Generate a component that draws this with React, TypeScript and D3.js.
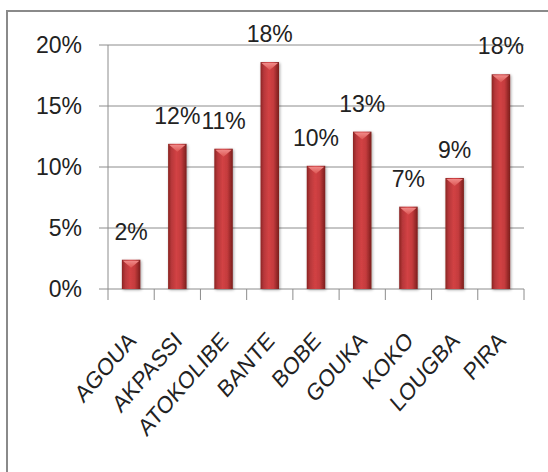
import React from "react";
import * as d3 from "d3";

const categories = ["AGOUA", "AKPASSI", "ATOKOLIBE", "BANTE", "BOBE", "GOUKA", "KOKO", "LOUGBA", "PIRA"];
const values = [2.4, 11.9, 11.5, 18.6, 10.1, 12.9, 6.75, 9.1, 17.6];
const valueLabels = ["2%", "12%", "11%", "18%", "10%", "13%", "7%", "9%", "18%"];
const yTicks = [0, 5, 10, 15, 20];

const W = 548;
const H = 472;
const FONT = "'Liberation Sans', Arial, sans-serif";

export default function App() {
  const x = d3.scaleBand<string>().domain(categories).range([108, 524]).paddingInner(0.6).paddingOuter(0.3);
  const y = d3.scaleLinear().domain([0, 20]).range([289, 45]);
  const step = x.step();
  const [x0, x1] = x.range();
  const bw = x.bandwidth();
  const boundaries = d3.range(categories.length + 1).map((i) => x0 + i * step);

  return (
    <svg width={W} height={H} style={{ position: "absolute", left: 0, top: 0, background: "#fff" }}>
      <defs>
        <linearGradient id="barGrad" x1="0" y1="0" x2="1" y2="0">
          <stop offset="0%" stopColor="#8a2422" />
          <stop offset="18%" stopColor="#b7373a" />
          <stop offset="45%" stopColor="#d24244" />
          <stop offset="70%" stopColor="#c43b3d" />
          <stop offset="100%" stopColor="#7a1e1c" />
        </linearGradient>
        <linearGradient id="capGrad" x1="0" y1="0" x2="0" y2="1">
          <stop offset="0%" stopColor="#f08a88" />
          <stop offset="100%" stopColor="#dc5553" />
        </linearGradient>
        <filter id="shadow" x="-30%" y="-10%" width="160%" height="130%">
          <feGaussianBlur in="SourceAlpha" stdDeviation="1.5" />
          <feOffset dx="1" dy="1" result="b" />
          <feComponentTransfer><feFuncA type="linear" slope="0.35" /></feComponentTransfer>
          <feMerge><feMergeNode /><feMergeNode in="SourceGraphic" /></feMerge>
        </filter>
      </defs>

      {/* outer border */}
      <rect x={7} y={11} width={W} height={H} fill="none" stroke="#8a8a8a" strokeWidth={2} />

      {/* gridlines & y ticks */}
      {yTicks.map((t) => (
        <g key={t}>
          <line x1={x0 - 9} x2={x1} y1={y(t)} y2={y(t)} stroke="#8c8c8c" strokeWidth={1} />
          <text x={82} y={y(t)} dy="0.36em" textAnchor="end" fontFamily={FONT} fontSize={23} fill="#222">
            {t}%
          </text>
        </g>
      ))}

      {/* y axis line */}
      <line x1={x0} x2={x0} y1={y(20)} y2={y(0)} stroke="#8c8c8c" strokeWidth={1} />

      {/* x ticks */}
      {boundaries.map((b, i) => (
        <line key={i} x1={b} x2={b} y1={y(0)} y2={y(0) + 11} stroke="#8c8c8c" strokeWidth={1} />
      ))}

      {/* bars */}
      {categories.map((c, i) => {
        const bx = x(c)!;
        const top = y(values[i]);
        const capH = Math.min(8, (y(0) - top) * 0.5);
        return (
          <g key={c} filter="url(#shadow)">
            <rect x={bx} y={top} width={bw} height={y(0) - top} fill="url(#barGrad)" />
            <path d={`M${bx + 1},${top + 1} L${bx + bw - 1},${top + 1} L${bx + bw / 2},${top + capH} Z`} fill="url(#capGrad)" />
          </g>
        );
      })}

      {/* value labels */}
      {categories.map((c, i) => (
        <text
          key={c}
          x={x(c)! + bw / 2}
          y={y(values[i]) - 20}
          textAnchor="middle"
          fontFamily={FONT}
          fontSize={23}
          fill="#222"
        >
          {valueLabels[i]}
        </text>
      ))}

      {/* category labels */}
      {categories.map((c) => {
        const cx = x(c)! + bw / 2 + 6;
        const cy = 342;
        return (
          <text
            key={c}
            x={0}
            y={0}
            textAnchor="end"
            transform={`translate(${cx} ${cy}) scale(1 1.15) rotate(-45)`}
            fontFamily={FONT}
            fontSize={21}
            fill="#222"
          >
            {c}
          </text>
        );
      })}
    </svg>
  );
}
